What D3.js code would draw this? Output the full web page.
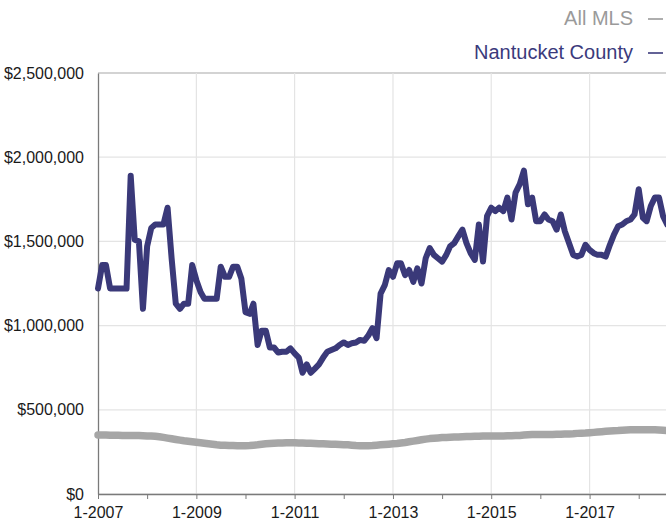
<!DOCTYPE html>
<html>
<head>
<meta charset="utf-8">
<script src="https://cdn.jsdelivr.net/npm/d3@7"></script>
<style>
  body { margin: 0; background: #fff; }
  svg { display: block; font-family: "Liberation Sans", Arial, Helvetica, sans-serif; }
</style>
</head>
<body>
<div id="chart"></div>
<script>
// monthly median values, starting January 2007
const startMonth = "2007-01"

const nantucket = [
  1220000, 1360000, 1360000, 1220000, 1220000, 1220000, 1220000, 1220000, 1890000, 1510000, 1500000, 1100000,
  1470000, 1580000, 1600000, 1600000, 1600000, 1700000, 1400000, 1130000, 1100000, 1130000, 1130000, 1360000,
  1270000, 1200000, 1160000, 1160000, 1160000, 1160000, 1350000, 1290000, 1290000, 1350000, 1350000, 1280000,
  1080000, 1070000, 1130000, 885000, 970000, 970000, 870000, 870000, 840000, 845000, 845000, 865000,
  835000, 810000, 720000, 770000, 720000, 745000, 770000, 810000, 845000, 855000, 865000, 885000,
  900000, 885000, 895000, 900000, 915000, 910000, 940000, 985000, 925000, 1190000, 1240000, 1330000,
  1290000, 1370000, 1370000, 1300000, 1330000, 1260000, 1340000, 1250000, 1400000, 1460000, 1420000, 1400000,
  1380000, 1420000, 1470000, 1490000, 1530000, 1570000, 1490000, 1430000, 1390000, 1600000, 1380000, 1650000,
  1700000, 1680000, 1700000, 1680000, 1760000, 1630000, 1790000, 1840000, 1920000, 1720000, 1760000, 1620000,
  1620000, 1660000, 1630000, 1620000, 1570000, 1660000, 1560000, 1490000, 1420000, 1410000, 1420000, 1480000,
  1450000, 1430000, 1420000, 1420000, 1410000, 1480000, 1540000, 1590000, 1600000, 1620000, 1630000, 1660000,
  1810000, 1640000, 1620000, 1710000, 1760000, 1760000, 1650000, 1600000
]

const allMls = [
  350000, 350000, 350000, 349000, 349000, 349000, 348000, 348000, 348000, 347000, 347000, 346000,
  345000, 345000, 343000, 340000, 336000, 332000, 328000, 324000, 320000, 316000, 313000, 310000,
  307000, 304000, 301000, 298000, 295000, 292000, 290000, 289000, 288000, 288000, 287000, 287000,
  287000, 288000, 290000, 292000, 295000, 298000, 300000, 302000, 303000, 303000, 304000, 304000,
  304000, 303000, 303000, 302000, 301000, 300000, 299000, 298000, 297000, 296000, 295000, 294000,
  293000, 292000, 290000, 288000, 287000, 286000, 287000, 288000, 290000, 292000, 294000, 296000,
  298000, 300000, 303000, 306000, 310000, 314000, 318000, 322000, 326000, 329000, 331000, 333000,
  335000, 336000, 337000, 338000, 339000, 340000, 341000, 342000, 343000, 343000, 344000, 344000,
  344000, 344000, 345000, 345000, 346000, 346000, 347000, 348000, 350000, 352000, 353000, 354000,
  354000, 354000, 354000, 354000, 355000, 355000, 356000, 357000, 358000, 360000, 361000, 362000,
  364000, 366000, 368000, 370000, 372000, 374000, 376000, 377000, 379000, 380000, 381000, 382000,
  382000, 382000, 382000, 382000, 381000, 380000, 379000, 377000
]

const yTicks = [0, 500000, 1000000, 1500000, 2000000, 2500000]
const xTickYears = [2007, 2008, 2009, 2010, 2011, 2012, 2013, 2014, 2015, 2016, 2017, 2018]
const xLabelYears = [2007, 2009, 2011, 2013, 2015, 2017]
const legendItems = [
  { name: "All MLS", color: "#9a9a9a" },
  { name: "Nantucket County", color: "#3b3a7c" }
]

const width = 666, height = 521
const marginL = 98, marginT = 73, plotBottom = 494
const monthPx = 4.096

const parseMonth = d3.timeParse("%Y-%m")
const t0 = parseMonth(startMonth)
const t1 = d3.timeYear.offset(t0, 12)
const yearDate = yr => new Date(yr, 0, 1)

const x = d3.scaleTime()
  .domain([t0, t1])
  .range([marginL, marginL + monthPx * 144])

const y = d3.scaleLinear()
  .domain([0, 2500000])
  .range([plotBottom, marginT])

const svg = d3.select("#chart")
  .append("svg")
  .attr("width", width)
  .attr("height", height)

// horizontal grid
svg.append("g")
  .selectAll("line")
  .data(yTicks)
  .join("line")
  .attr("x1", marginL)
  .attr("x2", width)
  .attr("y1", d => y(d))
  .attr("y2", d => y(d))
  .attr("stroke", d => d === 2500000 ? "#a8a8a8" : "#e4e4e4")
  .attr("stroke-width", 1.2)

// vertical grid at labelled years
svg.append("g")
  .selectAll("line")
  .data(xLabelYears.slice(1).map(yearDate))
  .join("line")
  .attr("x1", d => x(d))
  .attr("x2", d => x(d))
  .attr("y1", marginT)
  .attr("y2", plotBottom)
  .attr("stroke", "#e4e4e4")
  .attr("stroke-width", 1.2)

// y axis
const yAxis = d3.axisLeft(y)
  .tickValues(yTicks)
  .tickSize(0)
  .tickPadding(14)
  .tickFormat(d => "$" + d3.format(",")(d))

svg.append("g")
  .attr("transform", `translate(${marginL},0)`)
  .call(yAxis)
  .call(g => g.select(".domain").attr("stroke", "#7a7a7a").attr("stroke-width", 1.3))
  .selectAll("text")
  .attr("fill", "#1a1a1a")
  .style("font-size", "16px")

// x axis, ticks every year, labels every two years
const xAxis = d3.axisBottom(x)
  .tickValues(xTickYears.map(yearDate))
  .tickSize(5)
  .tickSizeOuter(0)
  .tickPadding(8)
  .tickFormat(d => xLabelYears.includes(d.getFullYear()) ? d3.timeFormat("1-%Y")(d) : "")

svg.append("g")
  .attr("transform", `translate(0,${plotBottom})`)
  .call(xAxis)
  .call(g => g.select(".domain").attr("stroke", "#7a7a7a").attr("stroke-width", 1.3))
  .call(g => g.selectAll(".tick line").attr("stroke", "#7a7a7a"))
  .selectAll("text")
  .attr("fill", "#1a1a1a")
  .style("font-size", "16px")

// lines
const line = d3.line()
  .x((d, i) => x(d3.timeMonth.offset(t0, i)))
  .y(d => y(d))
  .curve(d3.curveLinear)

svg.append("path")
  .datum(allMls)
  .attr("d", line)
  .attr("fill", "none")
  .attr("stroke", "#a6a6a6")
  .attr("stroke-width", 7.5)
  .attr("stroke-linejoin", "round")
  .attr("stroke-linecap", "round")

svg.append("path")
  .datum(nantucket)
  .attr("d", line)
  .attr("fill", "none")
  .attr("stroke", "#3a3979")
  .attr("stroke-width", 6)
  .attr("stroke-linejoin", "round")
  .attr("stroke-linecap", "round")

// legend
const legend = svg.append("g")
  .selectAll("g")
  .data(legendItems)
  .join("g")
  .attr("transform", (d, i) => `translate(0,${18 + i * 34})`)

legend.append("text")
  .attr("x", 633)
  .attr("dy", "0.36em")
  .attr("text-anchor", "end")
  .attr("fill", d => d.color)
  .style("font-size", "20px")
  .text(d => d.name)

legend.append("line")
  .attr("x1", 648)
  .attr("x2", 663)
  .attr("y1", 1)
  .attr("y2", 1)
  .attr("stroke", d => d.color)
  .attr("stroke-width", 1.6)
</script>
</body>
</html>
